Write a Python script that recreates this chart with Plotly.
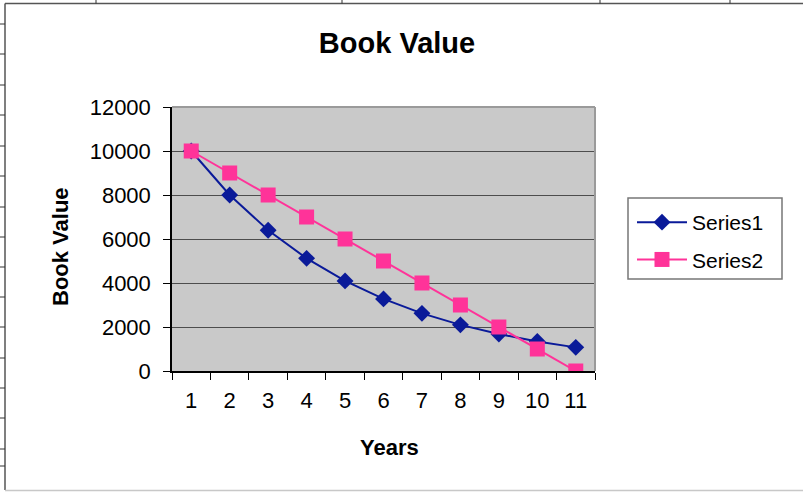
import plotly.graph_objects as go

years = ["1", "2", "3", "4", "5", "6", "7", "8", "9", "10", "11"]
series1 = [10000, 8000, 6400, 5120, 4096, 3277, 2621, 2097, 1678, 1342, 1074]
series2 = [10000, 9000, 8000, 7000, 6000, 5000, 4000, 3000, 2000, 1000, 0]
y_ticks = [0, 2000, 4000, 6000, 8000, 10000, 12000]

W, H = 803, 493
L, R, T, B = 172, 595, 107, 371
FONT = "Liberation Sans, Arial, sans-serif"


def px(x):
    return (x - L) / (R - L)


def py(y):
    return (B - y) / (B - T)


fig = go.Figure()
fig.add_trace(go.Scatter(
    x=years, y=series1, name="Series1", mode="lines+markers", legendgroup="a",
    line=dict(color="#0a1a99", width=2),
    marker=dict(symbol="diamond", size=13, color="#0a1a99"),
))
fig.add_trace(go.Scatter(
    x=years, y=series2, name="Series2", mode="lines+markers", legendgroup="b",
    line=dict(color="#ff3399", width=2),
    marker=dict(symbol="square", size=15, color="#ff3399"),
))

shapes = [
    # plot area top/right border
    dict(type="line", xref="paper", yref="paper", x0=0, x1=1, y0=1, y1=1,
         line=dict(color="#9a9a9a", width=2)),
    dict(type="line", xref="paper", yref="paper", x0=1, x1=1, y0=0, y1=1,
         line=dict(color="#9a9a9a", width=2)),
    # legend box
    dict(type="rect", xref="paper", yref="paper", x0=px(628), x1=px(782), y0=py(198), y1=py(279),
         line=dict(color="#777777", width=1.5), fillcolor="white", layer="below"),
    # outer spreadsheet frame
    dict(type="line", xref="paper", yref="paper", x0=px(5), x1=px(803), y0=py(3.5), y1=py(3.5),
         line=dict(color="#555555", width=1.5)),
    dict(type="line", xref="paper", yref="paper", x0=px(5), x1=px(5), y0=py(3.5), y1=py(490),
         line=dict(color="#555555", width=1.5)),
    dict(type="line", xref="paper", yref="paper", x0=px(5), x1=px(803), y0=py(490.5), y1=py(490.5),
         line=dict(color="#c8c8c8", width=1.5)),
]
for tx in [96, 342, 600, 730]:
    shapes.append(dict(type="line", xref="paper", yref="paper", x0=px(tx), x1=px(tx),
                       y0=py(0), y1=py(3.5), line=dict(color="#333333", width=1)))
for ty in [24, 54, 85, 115, 146, 176, 207, 237, 267, 297, 327, 358, 388, 418, 449, 466]:
    shapes.append(dict(type="line", xref="paper", yref="paper", x0=px(0), x1=px(5),
                       y0=py(ty), y1=py(ty), line=dict(color="#333333", width=1)))

annotations = [
    dict(text="<b>Book Value</b>", xref="paper", yref="paper", x=px(60), y=py(247),
         textangle=-90, showarrow=False, font=dict(family=FONT, size=22, color="black"),
         xanchor="center", yanchor="middle"),
    dict(text="<b>Years</b>", xref="paper", yref="paper", x=px(389), y=py(447),
         showarrow=False, font=dict(family=FONT, size=22, color="black"),
         xanchor="center", yanchor="middle"),
]

fig.update_layout(
    width=W, height=H,
    margin=dict(l=L, r=W - R, t=T, b=H - B, autoexpand=False),
    paper_bgcolor="white",
    plot_bgcolor="#c9c9c9",
    font=dict(family=FONT, size=21, color="black"),
    title=dict(text="<b>Book Value</b>", x=397 / W, xref="container", y=1 - 43 / H,
               yref="container", xanchor="center", yanchor="middle",
               font=dict(family=FONT, size=29, color="black")),
    xaxis=dict(
        type="category", categoryorder="array", categoryarray=years,
        range=[-0.5, len(years) - 0.5],
        tickson="boundaries", ticks="outside", ticklen=7, tickcolor="black",
        showline=True, linecolor="black", linewidth=1.5,
        showgrid=False, zeroline=False, ticklabelstandoff=9,
        tickfont=dict(family=FONT, size=22),
    ),
    yaxis=dict(
        range=[0, 12000], tickvals=y_ticks, ticktext=[str(v) for v in y_ticks],
        ticks="outside", ticklen=7, tickcolor="black",
        showline=True, linecolor="black", linewidth=1.5,
        showgrid=True, gridcolor="#4d4d4d", gridwidth=1, zeroline=False,
        ticklabelstandoff=8, tickfont=dict(family=FONT, size=22),
    ),
    legend=dict(
        x=px(632), y=py(202), xanchor="left", yanchor="top",
        borderwidth=0, bgcolor="rgba(0,0,0,0)",
        font=dict(family=FONT, size=21), itemwidth=50, tracegroupgap=7,
    ),
    shapes=shapes,
    annotations=annotations,
)

fig.write_html("out.html", config={"displayModeBar": False},
               post_script="document.body.style.margin='0';")
